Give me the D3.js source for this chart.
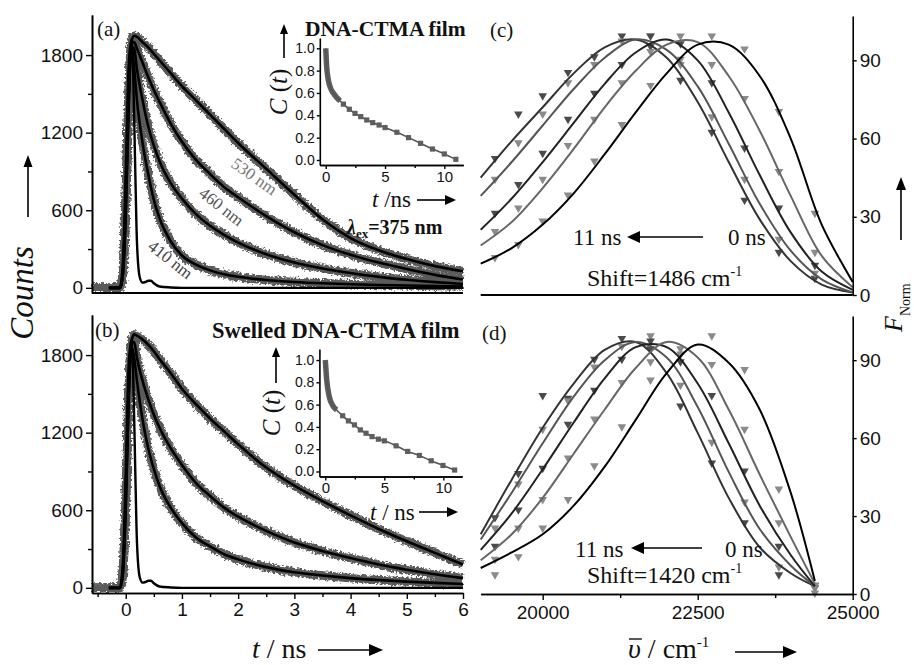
<!DOCTYPE html>
<html><head><meta charset="utf-8">
<script src="https://cdn.jsdelivr.net/npm/d3@7"></script>
<style>body{margin:0;background:#fff}svg{display:block}</style>
</head><body>
<svg id="fig" width="914" height="665"></svg>
<script>
// ---- decay traces (counts vs time, ns) ----
const decayTime = [-0.6,-0.3,-0.15,-0.1,-0.05,0,0.05,0.1,0.15,0.2,0.3,0.4,0.5,0.6,0.8,1.0,1.25,1.5,1.75,2.0,2.5,3.0,3.5,4.0,4.5,5.0,5.5,6.0];
const filmA530 = [0,0,0,0,150,700,1500,1900,1950,1940,1900,1860,1810,1760,1660,1560,1450,1340,1230,1120,920,720,530,385,290,222,168,128];
const filmA460 = [0,0,0,0,120,650,1450,1880,1900,1850,1740,1630,1530,1440,1270,1130,990,880,780,700,555,430,330,255,195,145,100,65];
const filmA435 = [0,0,0,0,110,600,1400,1870,1850,1690,1450,1250,1100,980,810,690,570,480,410,350,260,195,150,115,85,62,44,30];
const filmA410 = [0,0,0,0,100,550,1350,1860,1700,1450,1120,880,680,540,360,250,180,135,105,85,60,45,35,28,22,18,14,10];
const swellB530 = [0,0,0,0,150,700,1500,1900,1960,1950,1920,1880,1830,1770,1660,1540,1420,1310,1210,1110,930,790,670,560,455,360,270,180];
const swellB460 = [0,0,0,0,120,650,1450,1880,1900,1780,1600,1460,1340,1240,1080,950,810,710,620,550,440,350,285,230,180,140,105,75];
const swellB410 = [0,0,0,0,110,600,1400,1870,1780,1600,1300,1080,920,790,620,500,390,320,260,220,160,120,95,75,60,48,38,30];
// instrument response
const irfTime = [-0.6,-0.1,-0.05,0,0.05,0.1,0.13,0.17,0.2,0.25,0.3,0.35,0.4,0.45,0.5,0.6,0.8,1.0,6.0];
const irfA = [0,0,200,900,1700,1920,1700,900,350,80,40,45,55,55,35,10,3,0,0];
const irfB = [0,0,200,900,1700,1920,1700,900,350,80,40,45,55,55,35,10,3,0,0];

// ---- solvation correlation function C(t) ----
const insetTimeA = [0,0.08,0.22,0.42,0.65,0.93,1.21,1.49,1.99,2.47,2.95,3.46,3.96,4.5,5.0,6.0,6.98,8.0,9.0,10.0,10.97];
const insetCA = [1.0,0.836,0.716,0.641,0.597,0.558,0.528,0.50,0.454,0.417,0.388,0.358,0.334,0.313,0.29,0.248,0.2,0.149,0.098,0.054,0.006];
const insetTimeB = [0,0.12,0.34,0.6,0.96,1.47,1.96,2.47,2.97,3.45,3.96,4.5,5.0,6.0,6.98,7.97,8.97,9.97,10.96];
const insetCB = [1.0,0.82,0.67,0.597,0.552,0.5,0.454,0.418,0.373,0.343,0.313,0.29,0.275,0.23,0.18,0.144,0.096,0.054,0.013];

// ---- time-resolved emission spectra ----
const wavelengths = [520,510,500,490,480,470,460,450,440,430,420,410]; // nm
const fitGridC = [19000,19500,20000,20500,21000,21500,22000,22500,23000,23500,24000,24500,25000];
const fitC = [
  [45,59,72,85,95,98,91,74,51,29,13,4,1],
  [38,51,65,79,91,98,94,80,58,35,17,6,1],
  [25,37,51,66,81,93,98,90,70,46,24,9,2],
  [19,28,41,56,72,86,96,97,84,63,38,15,3],
  [12,18,27,39,54,70,85,96,96,84,60,27,5]
];
const markC = [
  [52,69,76,85,91,99,95,82,62,36,16,6],
  [44,58,69,81,88,97,99,88,68,44,21,8],
  [31,42,54,67,77,88,99,96,81,56,33,11],
  [24,33,44,57,67,81,93,99,88,75,47,16],
  [14,19,28,38,51,65,80,90,99,94,70,31]
];
const fitGridD = [19000,19500,20000,20500,21000,21500,22000,22500,23000,23500,24000,24390];
const fitD = [
  [23,44,64,81,94,97,85,62,37,18,8,3],
  [21,39,58,76,90,97,91,72,47,25,11,3],
  [17,31,48,66,83,95,95,81,58,34,15,3],
  [13,23,37,54,71,87,97,91,71,46,22,4],
  [10,16,23,34,49,67,85,96,89,71,39,5]
];
const markD = [
  [29,46,76,75,90,98,94,72,50,27,7,2],
  [25,42,63,74,87,95,99,80,58,35,10,2],
  [18,32,48,65,78,90,97,89,76,47,18,3],
  [13,25,36,52,67,81,89,94,88,63,27,3],
  [7,14,25,36,49,64,82,92,99,86,40,0]
];
const fitColors = ["#333","#555","#222","#666","#000"];
const markColors = ["#4a4a4a","#8a8a8a","#4a4a4a","#8a8a8a","#8a8a8a"];

// ---- ticks ----
const countTicks = [0,600,1200,1800], countMinor = [300,900,1500];
const timeTicks = [0,1,2,3,4,5,6], timeMinor = [-0.5,0.5,1.5,2.5,3.5,4.5,5.5];
const nuTicks = [20000,22500,25000], nuMinor = [21250,23750];
const fTicks = [0,30,60,90];
const cTicks = [0,0.2,0.4,0.6,0.8,1.0];
const insetTicks = [0,5,10], insetMinor = [2.5,7.5];

const serif = "'Liberation Serif','Times New Roman',serif";
const sans = "'Liberation Sans',Arial,sans-serif";
const svg = d3.select("#fig");

const defs = svg.append("defs");
const f = defs.append("filter").attr("id","rough").attr("x","-5%").attr("y","-5%").attr("width","110%").attr("height","110%");
f.append("feTurbulence").attr("type","fractalNoise").attr("baseFrequency","0.45").attr("numOctaves",2).attr("seed",4).attr("result","n");
f.append("feDisplacementMap").attr("in","SourceGraphic").attr("in2","n").attr("scale",6).attr("xChannelSelector","R").attr("yChannelSelector","G");

// ---- scales ----
const xT = d3.scaleLinear([-0.6, 6], [92, 463]);
const yA = d3.scaleLinear([-40, 2110], [293, 15]);
const yB = d3.scaleLinear([-40, 2110], [593, 315]);
const xN = d3.scaleLinear([19000, 25000], [480.7, 852.7]);
const yC = d3.scaleLinear([0, 107], [295, 16]);
const yD = d3.scaleLinear([0, 107], [594, 316]);
const xIa = d3.scaleLinear([-0.5, 11.6], [319.8, 463.3]);
const yIa = d3.scaleLinear([-0.045, 1.092], [165, 38]);
const xIb = d3.scaleLinear([-0.5, 11.6], [319.4, 462.2]);
const yIb = d3.scaleLinear([-0.045, 1.099], [476.5, 349]);

function styleAxis(g, fs, font) {
  g.select(".domain").attr("stroke","#000").attr("stroke-width",1.6);
  g.selectAll(".tick line").attr("stroke","#000").attr("stroke-width",1.4);
  g.selectAll(".tick text").attr("fill","#111").style("font-family",font||sans).style("font-size",fs+"px");
}
function addAxis(axis, tx, ty, fs) {
  const g = svg.append("g").attr("transform",`translate(${tx},${ty})`).call(axis);
  styleAxis(g, fs);
  return g;
}
const intFmt = d3.format("d");

// ---- decay panels ----
function decayPanel(yS, curves, irf, irfT) {
  const line = d3.line().x(d=>xT(d[0])).y(d=>yS(d[1])).curve(d3.curveMonotoneX);
  const band = svg.append("g").attr("filter","url(#rough)");
  curves.forEach(c => {
    band.append("path").datum(decayTime.map((t,i)=>[t,c[i]]))
      .attr("d",line).attr("fill","none").attr("stroke","#5a5a5a").attr("stroke-width",8.5).attr("stroke-linejoin","round");
  });
  const fits = svg.append("g");
  fits.append("path").datum(irfT.map((t,i)=>[t,irf[i]]).filter(d=>d[0]>=-0.4))
    .attr("d",line).attr("fill","none").attr("stroke","#000").attr("stroke-width",2.4);
  curves.forEach(c => {
    fits.append("path").datum(decayTime.map((t,i)=>[t,c[i]]).filter(d=>d[0]>=-0.4))
      .attr("d",line).attr("fill","none").attr("stroke","#000").attr("stroke-width",2.6);
  });
}
decayPanel(yA, [filmA530, filmA460, filmA435, filmA410], irfA, irfTime);
decayPanel(yB, [swellB530, swellB460, swellB410], irfB, irfTime);

// left axes
[yA, yB].forEach(yS => {
  addAxis(d3.axisLeft(yS).tickValues(countTicks).tickFormat(intFmt).tickSize(6).tickPadding(3).tickSizeOuter(0), 92, 0, 19);
  addAxis(d3.axisLeft(yS).tickValues(countMinor).tickSize(4).tickFormat("").tickSizeOuter(0), 92, 0, 19);
});
svg.append("line").attr("x1",92).attr("x2",463).attr("y1",293).attr("y2",293).attr("stroke","#000").attr("stroke-width",2);
addAxis(d3.axisBottom(xT).tickValues(timeTicks).tickFormat(intFmt).tickSize(6).tickPadding(4).tickSizeOuter(0), 0, 593, 19);
addAxis(d3.axisBottom(xT).tickValues(timeMinor).tickSize(4).tickFormat("").tickSizeOuter(0), 0, 593, 19);

// ---- insets ----
function inset(xS, yS, tArr, cArr) {
  const line = d3.line().x(d=>xS(d[0])).y(d=>yS(d[1])).curve(d3.curveMonotoneX);
  const pts = tArr.map((t,i)=>[t,cArr[i]]);
  svg.append("path").datum(pts.filter(d=>d[0]<=1.3)).attr("d",line)
    .attr("fill","none").attr("stroke","#5e5e5e").attr("stroke-width",5.5);
  svg.append("path").datum(pts).attr("d",line)
    .attr("fill","none").attr("stroke","#555").attr("stroke-width",1.6);
  svg.append("g").selectAll("rect").data(pts.filter(d=>d[0]>1.3)).join("rect")
    .attr("x",d=>xS(d[0])-2.6).attr("y",d=>yS(d[1])-2.6).attr("width",5.2).attr("height",5.2).attr("fill","#5e5e5e");
  const y0 = yS.range()[0], x0 = xS.range()[0];
  addAxis(d3.axisLeft(yS).tickValues(cTicks).tickSize(3).tickPadding(2).tickFormat(d3.format(".1f")).tickSizeOuter(0), x0, 0, 14);
  addAxis(d3.axisBottom(xS).tickValues(insetTicks).tickFormat(intFmt).tickSize(4).tickPadding(2).tickSizeOuter(0), 0, y0, 15);
  addAxis(d3.axisBottom(xS).tickValues(insetMinor).tickSize(3).tickFormat("").tickSizeOuter(0), 0, y0, 15);
}
inset(xIa, yIa, insetTimeA, insetCA);
inset(xIb, yIb, insetTimeB, insetCB);

// ---- spectra panels ----
const tri = d3.symbol(d3.symbolTriangle, 32);
function spectraPanel(yS, grid, fits, marks) {
  const line = d3.line().x(d=>xN(d[0])).y(d=>yS(d[1])).curve(d3.curveCatmullRom.alpha(0.5));
  const nu = wavelengths.map(l => 1e7 / l);
  marks.forEach((m,k) => {
    svg.append("g").selectAll("path").data(m).join("path")
      .attr("d",tri).attr("fill",markColors[k])
      .attr("transform",(d,i)=>`translate(${xN(nu[i])},${yS(d)-1}) rotate(180)`);
  });
  fits.forEach((c,k) => {
    svg.append("path").datum(grid.map((v,i)=>[v,c[i]])).attr("d",line)
      .attr("fill","none").attr("stroke",fitColors[k]).attr("stroke-width",2);
  });
}
spectraPanel(yC, fitGridC, fitC, markC);
spectraPanel(yD, fitGridD, fitD, markD);

// right axes
addAxis(d3.axisRight(yC).tickValues(fTicks).tickSize(4).tickPadding(3).tickSizeOuter(0), 852.7, 0, 19);
addAxis(d3.axisRight(yD).tickValues(fTicks).tickSize(4).tickPadding(3).tickSizeOuter(0), 852.7, 0, 19);
svg.append("line").attr("x1",480.7).attr("x2",852.7).attr("y1",295).attr("y2",295).attr("stroke","#000").attr("stroke-width",2);
addAxis(d3.axisBottom(xN).tickValues(nuTicks).tickFormat(intFmt).tickSize(6).tickPadding(6).tickSizeOuter(0), 0, 594, 19);
addAxis(d3.axisBottom(xN).tickValues(nuMinor).tickSize(4).tickFormat("").tickSizeOuter(0), 0, 594, 19);

// ---- text ----
function txt(x, y, parts, opt) {
  opt = opt || {};
  const t = svg.append("text").attr("x",x).attr("y",y)
    .style("font-family",opt.font||serif).style("font-size",(opt.size||20)+"px")
    .attr("fill",opt.fill||"#111").attr("text-anchor",opt.anchor||"start");
  if (opt.bold) t.style("font-weight","bold");
  if (opt.rotate!==undefined) t.attr("transform",`rotate(${opt.rotate},${x},${y})`);
  parts.forEach(p => {
    if (typeof p === "string") p = {s:p};
    const ts = t.append("tspan").text(p.s);
    if (p.i) ts.style("font-style","italic");
    if (p.size) ts.style("font-size",p.size+"px");
    if (p.dy) ts.attr("dy",p.dy);
    if (p.dx) ts.attr("dx",p.dx);
  });
  return t;
}
function arrow(x1, y1, x2, y2, head, w) {
  const a = Math.atan2(y2-y1, x2-x1), h = head||11, hw = w||4.5;
  const bx = x2 - h*Math.cos(a), by = y2 - h*Math.sin(a);
  svg.append("line").attr("x1",x1).attr("y1",y1).attr("x2",bx).attr("y2",by).attr("stroke","#000").attr("stroke-width",1.6);
  const px = -Math.sin(a)*hw, py = Math.cos(a)*hw;
  svg.append("path").attr("d",`M${x2},${y2}L${bx+px},${by+py}L${bx-px},${by-py}Z`).attr("fill","#000");
}

txt(97, 36, ["(a)"], {size:21});
txt(95, 337, ["(b)"], {size:21});
txt(490, 37, ["(c)"], {size:21});
txt(482, 340, ["(d)"], {size:21});

txt(305, 36, ["DNA-CTMA film"], {size:21.5, bold:true});
txt(212, 338, ["Swelled DNA-CTMA film"], {size:22.5, bold:true});
txt(347, 234, [{s:"λ",i:true},{s:"ex",size:13,dy:4},{s:"=375 nm",dy:-4}], {size:20, bold:true});

txt(251, 181, ["530 nm"], {size:17, fill:"#777", anchor:"middle", rotate:35});
txt(218, 211, ["460 nm"], {size:17, fill:"#555", anchor:"middle", rotate:38});
txt(167, 264, ["410 nm"], {size:17, fill:"#444", anchor:"middle", rotate:38});

// inset labels
txt(287, 92, [{s:"C",i:true}," (",{s:"t",i:true},")"], {size:25, anchor:"middle", rotate:-90});
arrow(284, 58, 284, 24, 10, 4);
txt(372, 207, [{s:"t",i:true}," /ns"], {size:23});
arrow(417, 200, 456, 200, 11, 5);
txt(280, 413, [{s:"C",i:true}," (",{s:"t",i:true},")"], {size:25, anchor:"middle", rotate:-90});
arrow(276, 383, 276, 347, 10, 4);
txt(370, 520, [{s:"t",i:true}," / ns"], {size:23});
arrow(419, 512, 458, 512, 11, 5);

// spectra annotations
txt(573, 245, ["11 ns"], {size:23});
arrow(703, 237, 627, 237, 13, 6);
txt(728, 245, ["0 ns"], {size:23});
txt(587, 286, ["Shift=1486 cm",{s:"-1",size:14,dy:-10}], {size:24});
txt(575, 557, ["11 ns"], {size:23});
arrow(702, 548, 631, 548, 13, 6);
txt(725, 557, ["0 ns"], {size:23});
txt(587, 583, ["Shift=1420 cm",{s:"-1",size:14,dy:-10}], {size:24});

// axis titles
txt(33, 293, [{s:"Counts",i:true}], {size:33, anchor:"middle", rotate:-90});
arrow(28, 217, 28, 155, 12, 4.5);
txt(902, 332, [{s:"F",i:true},{s:"Norm",size:14,dy:8}], {size:26, rotate:-90});
arrow(901, 240, 901, 177, 13, 5);

txt(252, 658, [{s:"t",i:true}," / ns"], {size:28});
arrow(318, 650, 383, 650, 14, 6);
const nuLab = txt(628, 658, [{s:"υ",i:true}," / cm",{s:"-1",size:15,dy:-11}], {size:28});
const ub = nuLab.select("tspan").node().getBBox();
svg.append("line").attr("x1",ub.x+1).attr("x2",ub.x+ub.width+1).attr("y1",ub.y+6).attr("y2",ub.y+6).attr("stroke","#111").attr("stroke-width",1.4);
arrow(735, 652, 797, 652, 14, 6);
</script>
</body></html>
